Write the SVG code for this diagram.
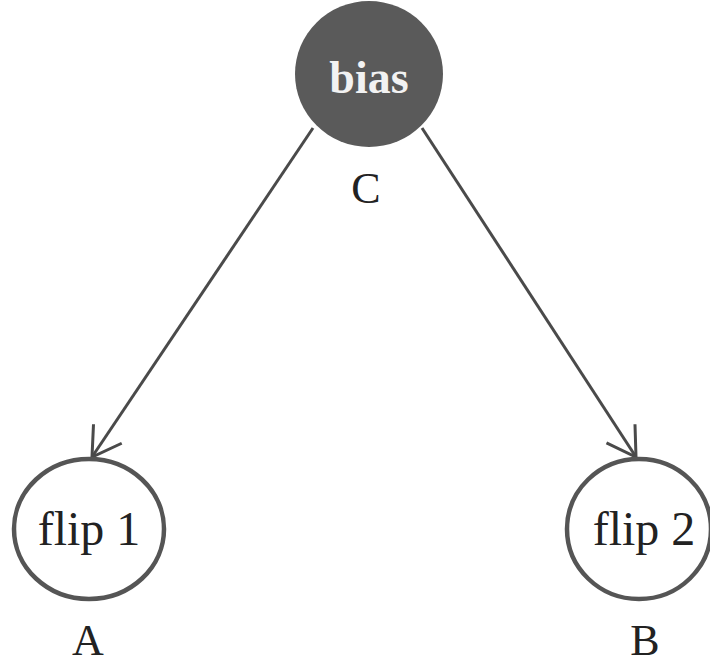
<svg xmlns="http://www.w3.org/2000/svg" width="710" height="664" viewBox="0 0 710 664">
<defs>
<style>
.lbl{font-family:"Liberation Serif","Times New Roman",serif;fill:#222;text-anchor:middle}
.edge{stroke:#4a4a4a;stroke-width:3;fill:none}
.ring{fill:#fff;stroke:#555;stroke-width:4.5}
</style>
<marker id="arr" markerUnits="userSpaceOnUse" markerWidth="40" markerHeight="40" viewBox="-32 -20 36 40" refX="0" refY="0" orient="auto">
<path d="M-28,-17 L0,0 L-28,17" fill="none" stroke="#4a4a4a" stroke-width="3"/>
</marker>
</defs>
<rect width="710" height="664" fill="#fff"/>
<g id="connectors">
<line class="edge" x1="313" y1="128" x2="92" y2="457" marker-end="url(#arr)"/>
<line class="edge" x1="422" y1="128" x2="636" y2="457" marker-end="url(#arr)"/>
</g>
<g id="node-bias">
<ellipse cx="369" cy="74" rx="74" ry="73" fill="#5a5a5a"/>
<text x="369" y="93" font-family="Liberation Serif, serif" font-size="46" font-weight="bold" fill="#f2f2f2" text-anchor="middle">bias</text>
<text class="lbl" x="366" y="203" font-size="44">C</text>
</g>
<g id="node-flip1">
<ellipse class="ring" cx="89" cy="529" rx="75" ry="70"/>
<text class="lbl" x="89" y="545" font-size="48">flip 1</text>
<text class="lbl" x="88" y="655" font-size="44">A</text>
</g>
<g id="node-flip2">
<ellipse class="ring" cx="639" cy="529" rx="72" ry="70"/>
<text class="lbl" x="644" y="545" font-size="48">flip 2</text>
<text class="lbl" x="645" y="655" font-size="44">B</text>
</g>
</svg>
